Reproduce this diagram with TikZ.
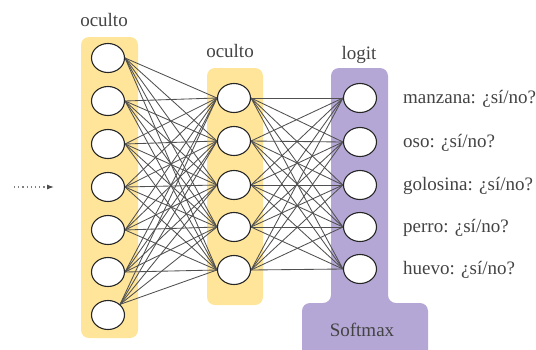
\documentclass[tikz,border=0pt]{standalone}
\usepackage{fontspec}
\setmainfont{Liberation Serif}
\usetikzlibrary{shapes.geometric,arrows.meta}
\definecolor{boxyellow}{HTML}{FFE599}
\definecolor{boxpurple}{HTML}{B4A7D6}
\definecolor{txtgray}{HTML}{434343}
\definecolor{linegray}{HTML}{505050}
\pgfdeclarelayer{bg}
\pgfdeclarelayer{lines}
\pgfsetlayers{bg,lines,main}
\tikzset{
  neuron/.style={ellipse, draw=black!85, line width=1.1pt, fill=white, minimum width=33pt, minimum height=29pt, inner sep=0pt},
  lbl/.style={text=txtgray, font=\fontsize{19}{22}\selectfont, inner sep=0pt},
  conn/.style={draw=linegray, line width=0.85pt},
  layerbox/.style={rounded corners=8pt},
}
\begin{document}
\begin{tikzpicture}[x=1pt,y=-1pt]
\useasboundingbox (0,0) rectangle (536,349);
\clip (0,0) rectangle (536,349);
% labels
\node[lbl] (t1) at (104,19.5) {oculto};
\node[lbl] (t2) at (230,50.5) {oculto};
\node[lbl] (t3) at (359,54.5) {logit};
\node[lbl] (sm) at (362,330) {Softmax};
% neurons
\foreach \i/\y in {1/58,2/101,3/144,4/187,5/230,6/272,7/315}
  \node[neuron] (a\i) at (108,\y) {};
\foreach \i/\y in {1/98,2/141,3/185,4/227,5/270}
  \node[neuron] (b\i) at (234,\y) {};
\foreach \i/\y in {1/98,2/142,3/185,4/227,5/269}
  \node[neuron] (c\i) at (360,\y) {};
% layer backgrounds
\begin{pgfonlayer}{bg}
\fill[boxyellow, layerbox] (81,37) rectangle (138,338);
\fill[boxyellow, layerbox] (207,68) rectangle (263,305);
\fill[boxpurple, layerbox] (331,68) -- (388,68) -- (388,303) -- (428,303) -- (428,358) -- (302,358) -- (302,303) -- (331,303) -- cycle;
\end{pgfonlayer}
% connections
\begin{pgfonlayer}{lines}
\foreach \i in {1,...,6}
  \foreach \j in {1,...,5}
    \draw[conn] (a\i.east) -- (b\j.west);
\foreach \j in {1,...,5}
  \draw[conn] (a7.north east) -- (b\j.west);
\foreach \i in {1,...,5}
  \foreach \j in {1,...,5}
    \draw[conn] (b\i.east) -- (c\j.west);
\end{pgfonlayer}
% outputs
\node[lbl, anchor=west] (o1) at (403,99) {manzana: ¿sí/no?};
\node[lbl, anchor=west] (o2) at (403,142.5) {oso: ¿sí/no?};
\node[lbl, anchor=west] (o3) at (403,186) {golosina: ¿sí/no?};
\node[lbl, anchor=west] (o4) at (403,228) {perro: ¿sí/no?};
\node[lbl, anchor=west] (o5) at (403,270) {huevo: ¿sí/no?};
% input arrow
\coordinate (in0) at (14,187);
\coordinate (in1) at (54,187);
\draw[draw=gray, line width=1.1pt, dash pattern=on 1.2pt off 3pt, -{Latex[length=7pt,width=5pt,color=black!70]}] (in0) -- (in1);
\end{tikzpicture}
\end{document}
